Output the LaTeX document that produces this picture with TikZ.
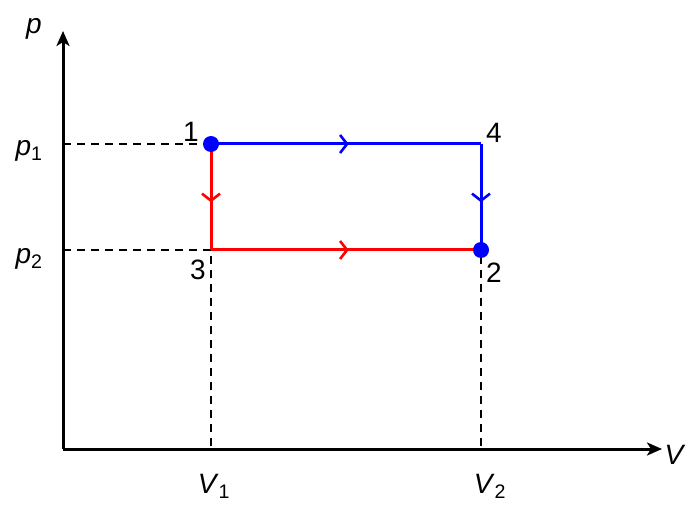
\documentclass[tikz,border=0pt]{standalone}
\usepackage{fontspec}
\setmainfont{Liberation Sans}
\usetikzlibrary{arrows.meta,decorations.markings}
\tikzset{
  axis/.style={line width=3pt,-{Stealth[length=15pt,width=13pt,inset=4pt]}},
  guide/.style={line width=2.4pt,dash pattern=on 8pt off 6pt},
  proc/.style={line width=3pt},
  midarrow/.style={postaction={decorate},decoration={markings,
     mark=at position #1 with {\arrow{Straight Barb[length=7pt,width=18pt,line width=2.6pt]}}}},
  lbl/.style={font=\fontsize{28}{30}\selectfont,inner sep=0pt},
  dot/.style={circle,fill=blue,minimum size=16pt,inner sep=0pt}
}
\begin{document}
\begin{tikzpicture}[x=1pt,y=-1pt]
\useasboundingbox (0,0) rectangle (698,510);
\coordinate (O) at (63,449);
\coordinate (Ytop) at (63,31);
\coordinate (Xend) at (662,449);
\coordinate (P1) at (211,144);
\coordinate (P4) at (481,144);
\coordinate (P2) at (481,250);
\coordinate (P3) at (211,250);
\coordinate (Yp1) at (63,144);
\coordinate (Yp2) at (63,250);
\coordinate (XV1) at (211,449);
\coordinate (XV2) at (481,449);
% guides
\draw[guide] (Yp1) -- (P1);
\draw[guide] (Yp2) -- (P3);
\draw[guide] (P1) -- (XV1);
\draw[guide] (P4) -- (XV2);
% axes
\draw[axis] (O) -- (Ytop);
\draw[axis] (O) -- (Xend);
% processes
\draw[proc,red,midarrow=0.55] (P1) -- (P3);
\draw[proc,red,midarrow=0.51] (P3) -- (P2);
\draw[proc,blue,midarrow=0.51] (P1) -- (P4);
\draw[proc,blue,midarrow=0.55] (P4) -- (P2);
\node[dot] (d1) at (P1) {};
\node[dot] (d2) at (P2) {};
% labels
\node[lbl] (l1) at (191,132) {1};
\node[lbl] (l4) at (494,133) {4};
\node[lbl] (l2) at (494,273) {2};
\node[lbl] (l3) at (198,270) {3};
\node[lbl] (lp) at (34,29) {\textit{p}};
\node[lbl] (lV) at (675,455) {\textit{V}};
\node[lbl] (lp1) at (29,151) {\textit{p}\textsubscript{1}};
\node[lbl] (lp2) at (29,259) {\textit{p}\textsubscript{2}};
\node[lbl] (lV1) at (214,486) {\textit{V}\textsubscript{1}};
\node[lbl] (lV2) at (490,486) {\textit{V}\textsubscript{2}};
\end{tikzpicture}
\end{document}
